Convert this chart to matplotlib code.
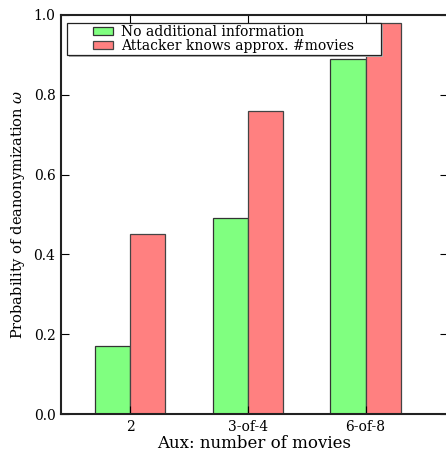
import numpy as np
import matplotlib
matplotlib.use("Agg")
import matplotlib.pyplot as plt
from matplotlib.patches import Rectangle

plt.rcParams['font.family'] = ['DejaVu Serif']
plt.rcParams['mathtext.fontset'] = 'dejavuserif'

categories = ["2", "3-of-4", "6-of-8"]
no_info = [0.17, 0.49, 0.89]
knows_count = [0.45, 0.76, 0.98]
series_labels = ["No additional information", "Attacker knows approx. #movies"]

W, H = 446, 451
fig = plt.figure(figsize=(W / 100, H / 100), dpi=100)
ax_left, ax_right, ax_top, ax_bottom = 61, 448, 15, 414
ax = fig.add_axes([ax_left / W, 1 - ax_bottom / H, (ax_right - ax_left) / W, (ax_bottom - ax_top) / H])

x = np.arange(len(categories))
width = 0.3
ax.bar(x - width / 2, no_info, width, color='#80ff80', edgecolor='#333333', linewidth=0.9,
       label=series_labels[0])
ax.bar(x + width / 2, knows_count, width, color='#ff8080', edgecolor='#444444', linewidth=0.9,
       label=series_labels[1])

ax.set_xlim(-0.587, 2.70)
ax.set_ylim(0, 1.0)
ax.set_xticks(x)
ax.set_xticklabels(categories, fontsize=10)
ax.set_yticks([0.0, 0.2, 0.4, 0.6, 0.8, 1.0])
ax.set_yticklabels(["0.0", "0.2", "0.4", "0.6", "0.8", "1.0"], fontsize=10)
ax.tick_params(direction='in', length=6, width=0.8, top=True, right=True, pad=4)
for s in ax.spines.values():
    s.set_linewidth(1.5)
    s.set_color('#222222')

ax.set_xlabel("Aux: number of movies", fontsize=12, labelpad=1)
ax.set_ylabel(r"Probability of deanonymization $\omega$", fontsize=10.5, labelpad=5)

# legend box with wide side padding and a faint drop shadow
axw, axh = ax_right - ax_left, ax_bottom - ax_top
fx0, fx1, fy0, fy1 = 67, 381, 23, 55
box = ((fx0 - ax_left) / axw, (ax_bottom - fy1) / axh)
bw, bh = (fx1 - fx0) / axw, (fy1 - fy0) / axh
shadow = Rectangle((box[0] + 1.5 / axw, box[1] - 1.5 / axh), bw, bh, transform=ax.transAxes,
                   facecolor='#b0b0b0', edgecolor='none', zorder=4)
ax.add_patch(shadow)
frame = Rectangle(box, bw, bh, transform=ax.transAxes,
                  facecolor='white', edgecolor='#222222', linewidth=0.9, zorder=4.1)
ax.add_patch(frame)
leg = ax.legend(loc='upper left', fontsize=10, frameon=False,
                bbox_to_anchor=((93 - ax_left) / axw, (ax_bottom - 25) / axh),
                borderpad=0.0, labelspacing=0.0, borderaxespad=0.0,
                handlelength=1.45, handleheight=0.5, handletextpad=0.58)
leg.set_zorder(5)

fig.savefig("out.png", dpi=100)
